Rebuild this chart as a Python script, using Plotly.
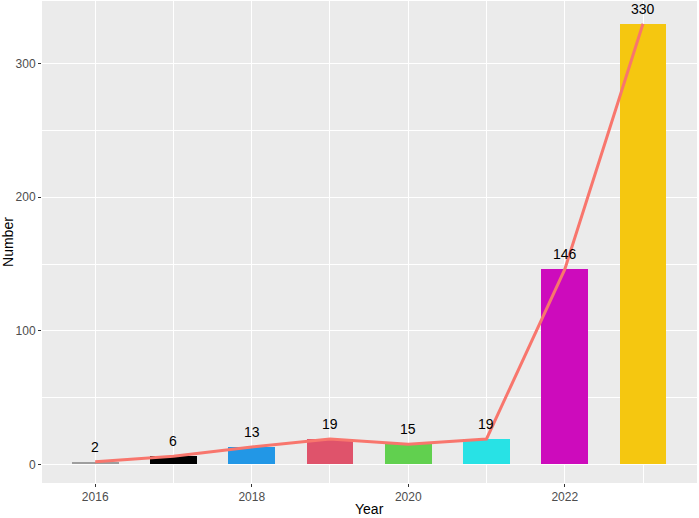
import plotly.graph_objects as go

# data
years = [2016, 2017, 2018, 2019, 2020, 2021, 2022, 2023]
counts = [2, 6, 13, 19, 15, 19, 146, 330]
bar_cols = ['#9E9E9E', '#000000', '#2297E6', '#DF536B', '#61D04F', '#28E2E5', '#CD0BBC', '#F5C710']
line_col = '#F8766D'

fig = go.Figure()

# bars, one colour per year
fig.add_trace(go.Bar(x=years, y=counts, width=0.6, marker=dict(color=bar_cols, line=dict(width=0)),
                     showlegend=False, hoverinfo='x+y'))

# trend line over the bars
fig.add_trace(go.Scatter(x=years, y=counts, mode='lines',
                         line=dict(color=line_col, width=3),
                         showlegend=False))

# value labels, a little above each bar
for yr, c in zip(years, counts):
    fig.add_annotation(x=yr, y=c, text=str(c), showarrow=False, yanchor='bottom', yshift=5,
                       font=dict(size=14, color='black'))

# axis titles
fig.add_annotation(x=0.5, y=-0.034, xref='paper', yref='paper', text='Year', showarrow=False,
                   xanchor='center', yanchor='top', font=dict(size=14, color='black'))
fig.add_annotation(x=-0.052, y=0.5, xref='paper', yref='paper', text='Number', showarrow=False,
                   textangle=-90, xanchor='center', yanchor='middle', font=dict(size=14, color='black'))

fig.update_layout(
    width=699, height=518,
    margin=dict(l=42, r=2, t=1, b=35),
    plot_bgcolor='#EBEBEB', paper_bgcolor='white',
    font=dict(family='Liberation Sans, Arial', size=12, color='#4D4D4D'),
    bargap=0,
)
fig.update_xaxes(
    range=[2015.32, 2023.69], tickvals=[2016, 2018, 2020, 2022],
    showgrid=True, gridcolor='white', gridwidth=1.3,
    minor=dict(tickvals=[2017, 2019, 2021, 2023], showgrid=True, gridcolor='white', gridwidth=0.6),
    ticks='outside', ticklen=3, tickcolor='#333333', zeroline=False, automargin=False,
)
fig.update_yaxes(
    range=[-14, 347], tickvals=[0, 100, 200, 300],
    showgrid=True, gridcolor='white', gridwidth=1.3,
    minor=dict(tickvals=[50, 150, 250], showgrid=True, gridcolor='white', gridwidth=0.6),
    ticks='outside', ticklen=3, tickcolor='#333333', zeroline=False, automargin=False,
)

# drop the page's default body margin so the figure sits at the window corner
fig.write_html('out.html', config={'displayModeBar': False},
               post_script="document.body.style.margin='0';")
